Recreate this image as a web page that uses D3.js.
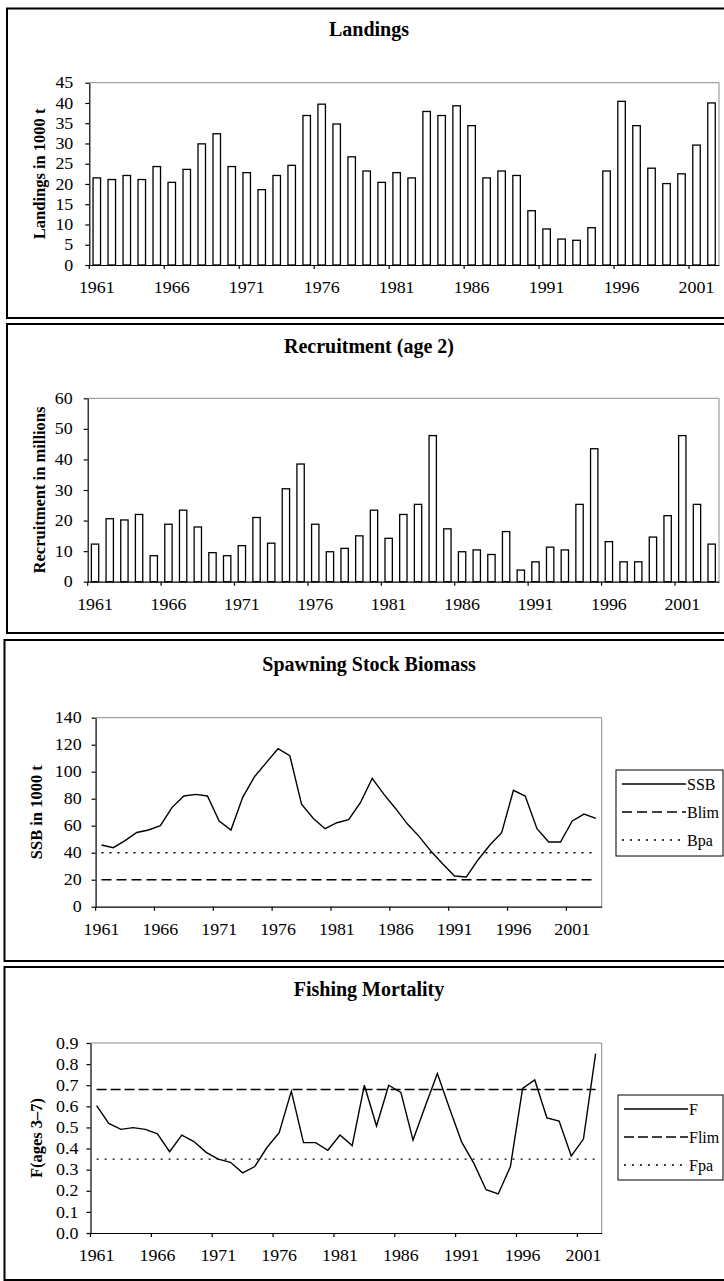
<!DOCTYPE html>
<html><head><meta charset="utf-8">
<script src="https://cdn.jsdelivr.net/npm/d3@7"></script>
<style>html,body{margin:0;padding:0;background:#fff;} svg{display:block;}</style>
</head><body>
<svg id="c" width="724" height="1281"></svg>
<script>
// ---------------- data ----------------
const years = [1961,1962,1963,1964,1965,1966,1967,1968,1969,1970,1971,1972,1973,1974,1975,1976,1977,1978,1979,1980,
  1981,1982,1983,1984,1985,1986,1987,1988,1989,1990,1991,1992,1993,1994,1995,1996,1997,1998,1999,2000,2001,2002,2003];
const yearsTo2002 = years.slice(0, 42);
const xTickYears = [1961,1966,1971,1976,1981,1986,1991,1996,2001];

const landings = [21.5,21.1,22.1,21.1,24.3,20.4,23.6,29.9,32.4,24.3,22.8,18.6,22.1,24.6,36.9,39.7,34.8,26.7,23.2,20.4,
  22.8,21.5,37.9,36.9,39.3,34.4,21.5,23.2,22.1,13.4,8.9,6.4,6.1,9.2,23.2,40.4,34.4,23.9,20.1,22.5,29.6,40.0];
const landingsTicks = [0,5,10,15,20,25,30,35,40,45];

const recruitment = [12.3,20.6,20.2,22.0,8.5,18.8,23.4,17.9,9.5,8.5,11.8,21.0,12.6,30.4,38.5,18.8,9.8,10.9,15.0,23.4,
  14.2,22.0,25.3,47.8,17.3,9.8,10.4,8.9,16.4,3.8,6.5,11.3,10.4,25.3,43.5,13.1,6.5,6.5,14.6,21.6,47.8,25.3,12.3];
const recruitmentTicks = [0,10,20,30,40,50,60];

const ssb = [45.7,43.7,48.9,55.0,56.8,60.0,73.6,82.0,83.2,82.0,63.5,56.8,81.0,96.3,106.7,117.0,111.9,76.0,65.4,57.8,
  62.2,64.4,77.0,95.0,83.2,72.6,61.2,51.9,41.0,31.6,22.7,22.0,34.8,45.7,54.8,86.2,82.0,57.8,47.9,47.9,63.5,68.6,65.4];
const blim = [20];
const bpa = [40];
const ssbTicks = [0,20,40,60,80,100,120,140];

const fishingF = [0.603,0.519,0.491,0.499,0.491,0.470,0.385,0.464,0.433,0.382,0.350,0.335,0.285,0.315,0.405,0.475,0.672,0.428,0.428,0.392,
  0.464,0.414,0.700,0.507,0.700,0.666,0.440,0.600,0.755,0.590,0.430,0.330,0.205,0.185,0.315,0.685,0.725,0.545,0.530,0.365,0.445,0.850];
const flim = [0.68];
const fpa = [0.35];
const fTicks = [0,0.1,0.2,0.3,0.4,0.5,0.6,0.7,0.8,0.9];

// ---------------- drawing ----------------
const svg = d3.select("#c");
const SERIF = "'Liberation Serif','Times New Roman',serif";
const SX = 1.12; // horizontal stretch of regular labels (source image is slightly widened)

function panelBox(x, y0, y1) {
  svg.append("rect").attr("x", x).attr("y", y0).attr("width", 740 - x).attr("height", y1 - y0)
    .attr("fill", "none").attr("stroke", "#000").attr("stroke-width", 2);
}

function title(txt, y) {
  svg.append("text").attr("x", 369).attr("y", y).attr("text-anchor", "middle")
    .attr("font-family", SERIF).attr("font-weight", "bold").attr("font-size", 20).text(txt);
}

function frame(cfg) {
  const g = svg.append("g");
  const xs = d3.scaleBand().domain(cfg.cats).range([cfg.x0, cfg.x1]).paddingInner(0).paddingOuter(0);
  const ys = d3.scaleLinear().domain(cfg.yDomain).range([cfg.y1, cfg.y0]);
  g.append("path").attr("d", `M${cfg.x0},${cfg.y0}H${cfg.x1}V${cfg.y1}`)
    .attr("fill", "none").attr("stroke", "#8c8c8c").attr("stroke-width", 1);
  const bw = xs.bandwidth();
  const gx = g.append("g").attr("transform", `translate(0,${cfg.y1})`)
    .call(d3.axisBottom(xs).tickValues(xTickYears).tickSize(4).tickSizeOuter(0).tickPadding(12.5));
  gx.selectAll(".tick line").attr("x1", -bw / 2).attr("x2", -bw / 2);
  const gy = g.append("g").attr("transform", `translate(${cfg.x0},0)`)
    .call(d3.axisLeft(ys).tickValues(cfg.yTicks).tickSize(4).tickSizeOuter(0).tickPadding(cfg.yPad)
      .tickFormat(cfg.fmt || d3.format("d")));
  [gx, gy].forEach(a => {
    a.selectAll("text").attr("font-family", SERIF).attr("font-size", 16).attr("fill", "#000").attr("class", "stretch");
    a.selectAll("line").attr("stroke", "#000").attr("stroke-width", 1.2);
    a.select(".domain").attr("stroke", "#000").attr("stroke-width", 1.2);
  });
  svg.append("text")
    .attr("transform", `translate(${cfg.titleX},${(cfg.y0 + cfg.y1) / 2}) rotate(-90)`)
    .attr("text-anchor", "middle").attr("dy", "0.35em")
    .attr("font-family", SERIF).attr("font-weight", "bold").attr("font-size", 16.5).text(cfg.yTitle);
  return {xs, ys, g};
}

function bars(p, cats, vals) {
  const bw = p.xs.bandwidth();
  const w = bw * 0.5;
  p.g.selectAll("rect.bar").data(vals).join("rect").attr("class", "bar")
    .attr("x", (d, i) => p.xs(cats[i]) + (bw - w) / 2)
    .attr("y", d => p.ys(d))
    .attr("width", w)
    .attr("height", d => p.ys(0) - p.ys(d))
    .attr("fill", "#fff").attr("stroke", "#000").attr("stroke-width", 1.3);
}

function seriesLine(p, cats, vals, dash) {
  const bw = p.xs.bandwidth();
  const line = d3.line().x((d, i) => p.xs(cats[i]) + bw / 2).y(d => p.ys(d));
  p.g.append("path").datum(vals).attr("d", line).attr("fill", "none")
    .attr("stroke", "#000").attr("stroke-width", 1.4).attr("stroke-dasharray", dash || null);
}

function refLine(p, cats, v, dash) {
  const bw = p.xs.bandwidth();
  const xa = p.xs(cats[0]) + bw / 2, xb = p.xs(cats[cats.length - 1]) + bw / 2;
  p.g.append("line").attr("x1", xa).attr("x2", xb).attr("y1", p.ys(v)).attr("y2", p.ys(v))
    .attr("stroke", "#000").attr("stroke-width", 1.4).attr("stroke-dasharray", dash);
}

function legend(x0, y0, y1, items) {
  svg.append("rect").attr("x", x0).attr("y", y0).attr("width", 723 - x0).attr("height", y1 - y0)
    .attr("fill", "#fff").attr("stroke", "#000").attr("stroke-width", 1);
  items.forEach((it, i) => {
    const cy = y0 + 14 + i * 28;
    svg.append("line").attr("x1", x0 + 6).attr("x2", x0 + 70).attr("y1", cy).attr("y2", cy)
      .attr("stroke", "#000").attr("stroke-width", 1.4).attr("stroke-dasharray", it.dash || null);
    svg.append("text").attr("x", x0 + 71).attr("y", cy).attr("dy", "0.35em")
      .attr("font-family", SERIF).attr("font-size", 16).text(it.label);
  });
}

// Panel 1: Landings
panelBox(7, 8.5, 318);
title("Landings", 36);
const p1 = frame({cats: yearsTo2002, x0: 89.3, x1: 719, y0: 82.7, y1: 265, yDomain: [0, 45],
  yTicks: landingsTicks, yTitle: "Landings in 1000 t", titleX: 39, yPad: 12});
bars(p1, yearsTo2002, landings);

// Panel 2: Recruitment
panelBox(7, 324, 633);
title("Recruitment (age 2)", 353);
const p2 = frame({cats: years, x0: 87.7, x1: 719, y0: 398.3, y1: 581.7, yDomain: [0, 60],
  yTicks: recruitmentTicks, yTitle: "Recruitment in millions", titleX: 39, yPad: 11});
bars(p2, years, recruitment);

// Panel 3: SSB
panelBox(4.5, 640, 961);
title("Spawning Stock Biomass", 671);
const p3 = frame({cats: years, x0: 95.6, x1: 601.7, y0: 717.7, y1: 906.7, yDomain: [0, 140],
  yTicks: ssbTicks, yTitle: "SSB in 1000 t", titleX: 36, yPad: 10});
refLine(p3, years, blim[0], "10,5");
refLine(p3, years, bpa[0], "2,6");
seriesLine(p3, years, ssb);
legend(616, 770, 856, [{label: "SSB"}, {label: "Blim", dash: "10,5"}, {label: "Bpa", dash: "2,6"}]);

// Panel 4: Fishing mortality
panelBox(4.5, 967, 1280);
title("Fishing Mortality", 996);
const p4 = frame({cats: yearsTo2002, x0: 90.5, x1: 601.7, y0: 1043, y1: 1233, yDomain: [0, 0.9],
  yTicks: fTicks, yTitle: "F(ages 3\u20137)", titleX: 36, yPad: 8, fmt: d3.format(".1f")});
refLine(p4, yearsTo2002, flim[0], "10,4");
refLine(p4, yearsTo2002, fpa[0], "2,6");
seriesLine(p4, yearsTo2002, fishingF);
legend(618, 1095, 1180, [{label: "F"}, {label: "Flim", dash: "10,4"}, {label: "Fpa", dash: "2,6"}]);

// horizontal stretch of axis labels about their anchor
svg.selectAll("text.stretch").each(function() {
  const t = d3.select(this);
  const ax = +t.attr("x") || 0;
  t.attr("transform", `translate(${ax},0) scale(${SX},1) translate(${-ax},0)`);
});
</script>
</body></html>
